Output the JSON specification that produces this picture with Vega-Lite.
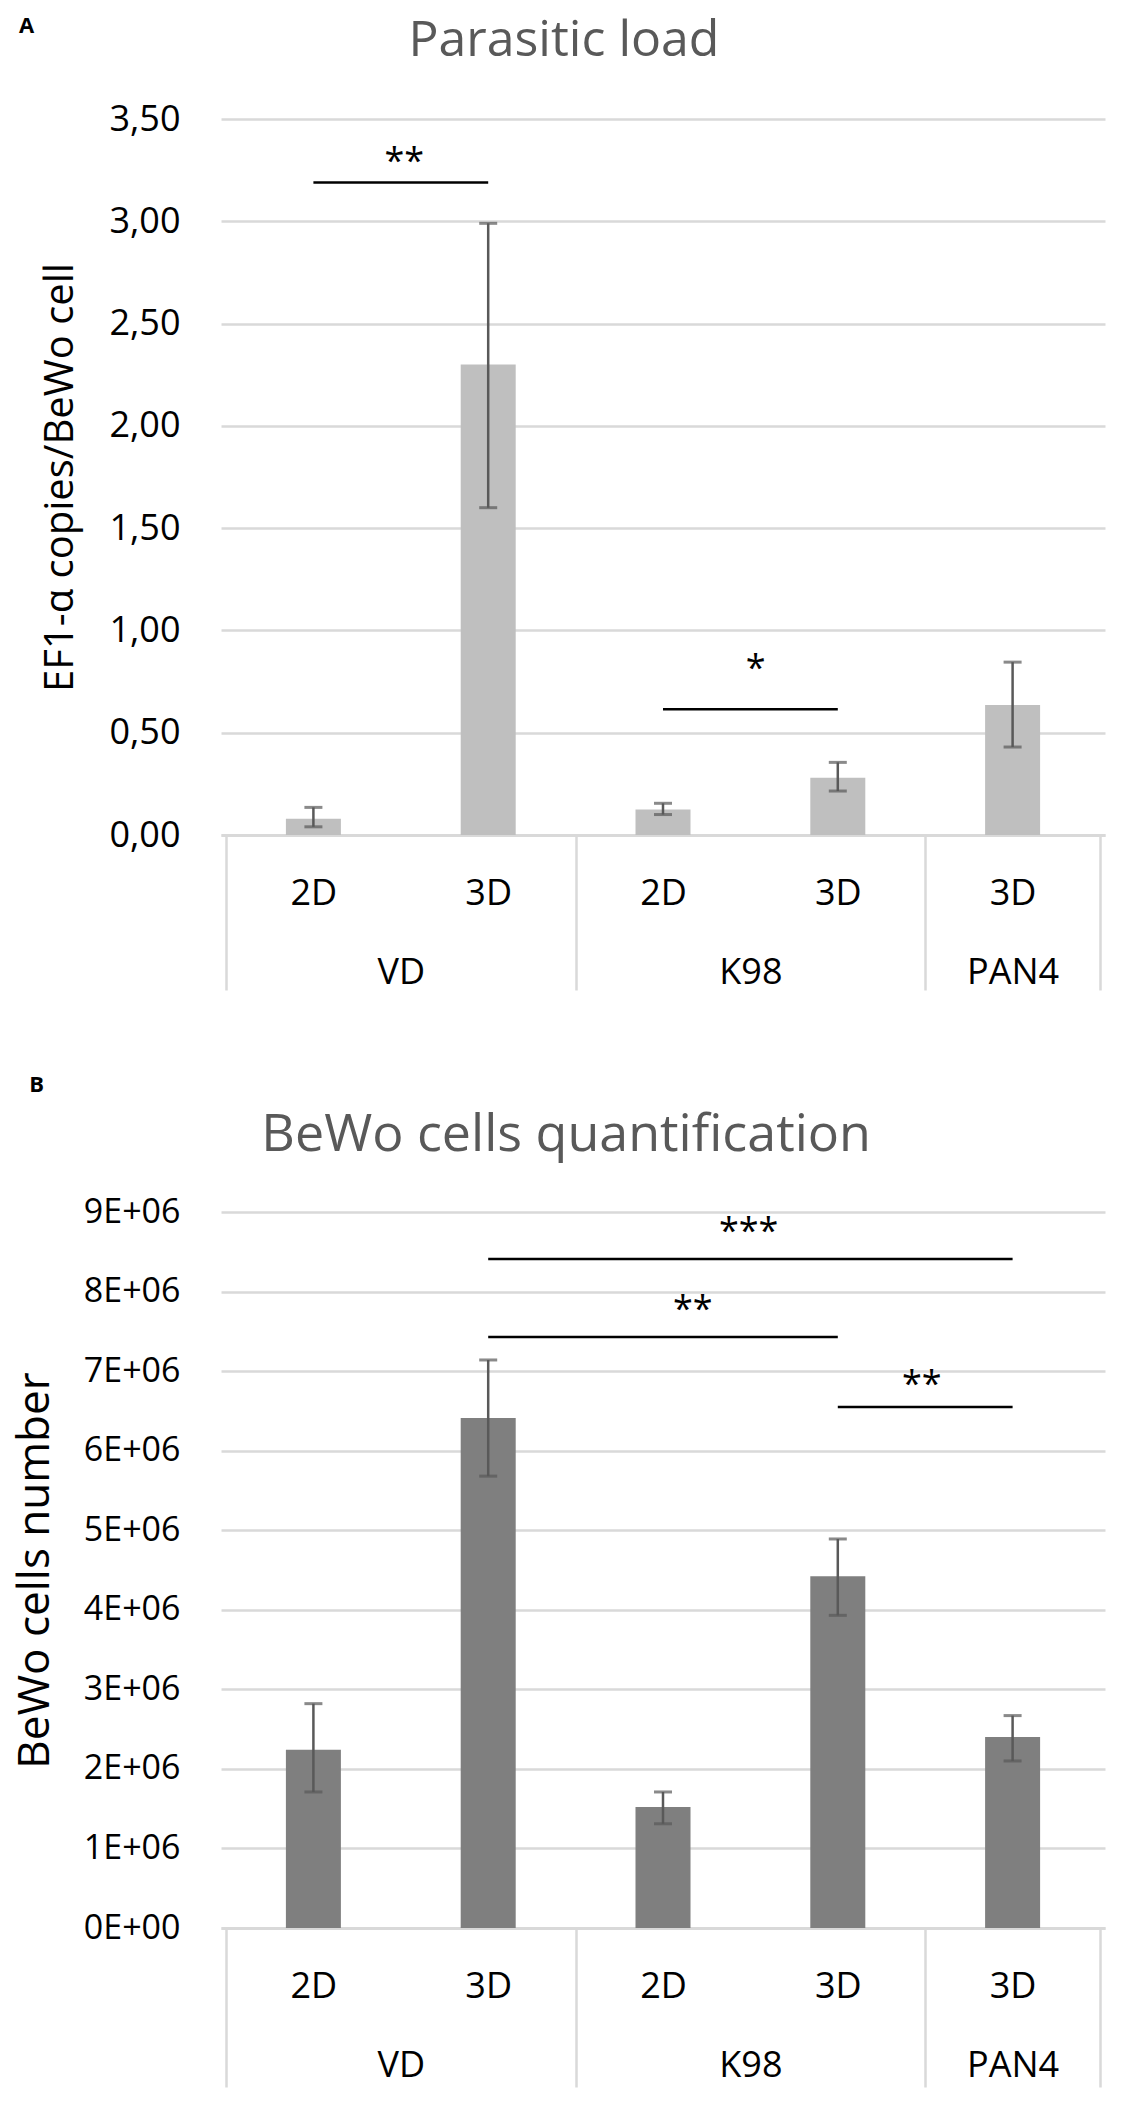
{
  "$schema": "https://vega.github.io/schema/vega-lite/v6.json",
  "background": "white",
  "padding": {"left": 13, "top": 15, "right": 5, "bottom": 5},
  "config": {
    "font": "Open Sans",
    "view": {"stroke": null},
    "axis": {"labelColor": "black", "titleColor": "black", "labelFont": "Open Sans", "titleFont": "Open Sans"}
  },
  "datasets": {
    "load": [
      {"strain": "VD", "cond": "2D", "pos": 0.5, "mean": 0.08, "lo": 0.04, "hi": 0.135},
      {"strain": "VD", "cond": "3D", "pos": 1.5, "mean": 2.30, "lo": 1.60, "hi": 2.99},
      {"strain": "K98", "cond": "2D", "pos": 2.5, "mean": 0.125, "lo": 0.10, "hi": 0.155},
      {"strain": "K98", "cond": "3D", "pos": 3.5, "mean": 0.28, "lo": 0.215, "hi": 0.355},
      {"strain": "PAN4", "cond": "3D", "pos": 4.5, "mean": 0.635, "lo": 0.43, "hi": 0.845}
    ],
    "load_sig": [
      {"from": 0.5, "to": 1.5, "level": 3.19, "mid": 1.02, "star_y": 3.33, "stars": "**"},
      {"from": 2.5, "to": 3.5, "level": 0.615, "mid": 3.03, "star_y": 0.85, "stars": "*"}
    ],
    "cells": [
      {"strain": "VD", "cond": "2D", "pos": 0.5, "mean": 2240000, "lo": 1710000, "hi": 2820000},
      {"strain": "VD", "cond": "3D", "pos": 1.5, "mean": 6410000, "lo": 5680000, "hi": 7140000},
      {"strain": "K98", "cond": "2D", "pos": 2.5, "mean": 1520000, "lo": 1310000, "hi": 1710000},
      {"strain": "K98", "cond": "3D", "pos": 3.5, "mean": 4420000, "lo": 3930000, "hi": 4890000},
      {"strain": "PAN4", "cond": "3D", "pos": 4.5, "mean": 2400000, "lo": 2100000, "hi": 2670000}
    ],
    "cells_sig": [
      {"from": 1.5, "to": 4.5, "level": 8410000, "mid": 2.99, "star_y": 8850000, "stars": "***"},
      {"from": 1.5, "to": 3.5, "level": 7430000, "mid": 2.67, "star_y": 7870000, "stars": "**"},
      {"from": 3.5, "to": 4.5, "level": 6550000, "mid": 3.98, "star_y": 6930000, "stars": "**"}
    ]
  },
  "spacing": 82,
  "vconcat": [
    {
      "title": {"text": "A", "anchor": "start", "frame": "bounds", "fontSize": 22, "fontWeight": "bold", "color": "black", "offset": -22, "dx": -22},
      "vconcat": [
        {
          "width": 884,
          "height": 716,
          "title": {"text": "Parasitic load", "fontSize": 50, "fontWeight": "normal", "color": "#595959", "anchor": "middle", "frame": "bounds", "offset": 35, "dx": -9},
          "resolve": {"axis": {"x": "independent"}},
          "layer": [
            {
              "data": {"name": "load"},
              "mark": {"type": "bar", "size": 55, "color": "#bfbfbf"},
              "encoding": {
                "x": {"field": "pos", "type": "quantitative", "scale": {"domain": [0, 5], "nice": false, "zero": false},
                  "axis": {"title": null, "orient": "bottom", "values": [0.5, 1.5, 2.5, 3.5, 4.5], "labelExpr": "datum.value < 1 ? '2D' : datum.value < 2 ? '3D' : datum.value < 3 ? '2D' : '3D'",
                    "ticks": false, "grid": false, "domainColor": "#d9d9d9", "domainWidth": 3, "labelFontSize": 36, "labelPadding": 41, "labelFlush": false, "labelOverlap": false}},
                "y": {"field": "mean", "type": "quantitative", "scale": {"domain": [0, 3.5], "nice": false},
                  "axis": {"title": "EF1-α copies/BeWo cell", "values": [0, 0.5, 1, 1.5, 2, 2.5, 3, 3.5], "labelExpr": "replace(format(datum.value, '.2f'), '.', ',')",
                    "grid": true, "gridColor": "#d9d9d9", "gridWidth": 2.5, "domain": false, "ticks": false, "labelFontSize": 36, "labelPadding": 41,
                    "titleFontSize": 40, "titleFontWeight": "normal", "titlePadding": 28}}
              }
            },
            {
              "data": {"name": "load"},
              "mark": {"type": "rule", "color": "#595959", "strokeWidth": 2.5},
              "encoding": {
                "x": {"field": "pos", "type": "quantitative",
                  "axis": {"title": null, "orient": "bottom", "values": [0, 2, 4, 5], "labels": false, "domain": false, "grid": false, "ticks": true, "tickSize": 155, "tickColor": "#d9d9d9", "tickWidth": 2.5}},
                "y": {"field": "lo", "type": "quantitative"},
                "y2": {"field": "hi"}
              }
            },
            {
              "data": {"name": "load"},
              "mark": {"type": "tick", "orient": "horizontal", "size": 18, "thickness": 3, "color": "#595959"},
              "encoding": {
                "x": {"field": "pos", "type": "quantitative",
                  "axis": {"title": null, "orient": "bottom", "values": [1, 3, 4.5], "labelExpr": "datum.value < 2 ? 'VD' : datum.value < 4 ? 'K98' : 'PAN4'",
                    "ticks": false, "domain": false, "grid": false, "labelFontSize": 36, "labelPadding": 120, "labelFlush": false, "labelOverlap": false}},
                "y": {"field": "lo", "type": "quantitative"}
              }
            },
            {
              "data": {"name": "load"},
              "mark": {"type": "tick", "orient": "horizontal", "size": 18, "thickness": 3, "color": "#595959"},
              "encoding": {
                "x": {"field": "pos", "type": "quantitative", "axis": null},
                "y": {"field": "hi", "type": "quantitative"}
              }
            },
            {
              "data": {"name": "load_sig"},
              "mark": {"type": "rule", "color": "black", "strokeWidth": 2.5},
              "encoding": {
                "x": {"field": "from", "type": "quantitative", "axis": null},
                "x2": {"field": "to"},
                "y": {"field": "level", "type": "quantitative"}
              }
            },
            {
              "data": {"name": "load_sig"},
              "mark": {"type": "text", "fontSize": 36, "color": "black", "baseline": "alphabetic", "dy": 19},
              "encoding": {
                "x": {"field": "mid", "type": "quantitative", "axis": null},
                "y": {"field": "star_y", "type": "quantitative"},
                "text": {"field": "stars"}
              }
            }
          ]
        }
      ]
    },
    {
      "title": {"text": "B", "anchor": "start", "frame": "bounds", "fontSize": 22, "fontWeight": "bold", "color": "black", "offset": 12, "dx": 16},
      "vconcat": [
        {
          "width": 884,
          "height": 716,
          "title": {"text": "BeWo cells quantification", "fontSize": 52, "fontWeight": "normal", "color": "#595959", "anchor": "middle", "frame": "bounds", "offset": 33, "dx": 7},
          "resolve": {"axis": {"x": "independent"}},
          "layer": [
            {
              "data": {"name": "cells"},
              "mark": {"type": "bar", "size": 55, "color": "#7f7f7f"},
              "encoding": {
                "x": {"field": "pos", "type": "quantitative", "scale": {"domain": [0, 5], "nice": false, "zero": false},
                  "axis": {"title": null, "orient": "bottom", "values": [0.5, 1.5, 2.5, 3.5, 4.5], "labelExpr": "datum.value < 1 ? '2D' : datum.value < 2 ? '3D' : datum.value < 3 ? '2D' : '3D'",
                    "ticks": false, "grid": false, "domainColor": "#d9d9d9", "domainWidth": 3, "labelFontSize": 36, "labelPadding": 41, "labelFlush": false, "labelOverlap": false}},
                "y": {"field": "mean", "type": "quantitative", "scale": {"domain": [0, 9000000], "nice": false},
                  "axis": {"title": "BeWo cells number", "values": [0, 1000000, 2000000, 3000000, 4000000, 5000000, 6000000, 7000000, 8000000, 9000000],
                    "labelExpr": "datum.value == 0 ? '0E+00' : round(datum.value / 1000000) + 'E+06'",
                    "grid": true, "gridColor": "#d9d9d9", "gridWidth": 2.5, "domain": false, "ticks": false, "labelFontSize": 34, "labelPadding": 41,
                    "titleFontSize": 44, "titleFontWeight": "normal", "titlePadding": 26}}
              }
            },
            {
              "data": {"name": "cells"},
              "mark": {"type": "rule", "color": "#595959", "strokeWidth": 2.5},
              "encoding": {
                "x": {"field": "pos", "type": "quantitative",
                  "axis": {"title": null, "orient": "bottom", "values": [0, 2, 4, 5], "labels": false, "domain": false, "grid": false, "ticks": true, "tickSize": 159, "tickColor": "#d9d9d9", "tickWidth": 2.5}},
                "y": {"field": "lo", "type": "quantitative"},
                "y2": {"field": "hi"}
              }
            },
            {
              "data": {"name": "cells"},
              "mark": {"type": "tick", "orient": "horizontal", "size": 18, "thickness": 3, "color": "#595959"},
              "encoding": {
                "x": {"field": "pos", "type": "quantitative",
                  "axis": {"title": null, "orient": "bottom", "values": [1, 3, 4.5], "labelExpr": "datum.value < 2 ? 'VD' : datum.value < 4 ? 'K98' : 'PAN4'",
                    "ticks": false, "domain": false, "grid": false, "labelFontSize": 36, "labelPadding": 120, "labelFlush": false, "labelOverlap": false}},
                "y": {"field": "lo", "type": "quantitative"}
              }
            },
            {
              "data": {"name": "cells"},
              "mark": {"type": "tick", "orient": "horizontal", "size": 18, "thickness": 3, "color": "#595959"},
              "encoding": {
                "x": {"field": "pos", "type": "quantitative", "axis": null},
                "y": {"field": "hi", "type": "quantitative"}
              }
            },
            {
              "data": {"name": "cells_sig"},
              "mark": {"type": "rule", "color": "black", "strokeWidth": 2.5},
              "encoding": {
                "x": {"field": "from", "type": "quantitative", "axis": null},
                "x2": {"field": "to"},
                "y": {"field": "level", "type": "quantitative"}
              }
            },
            {
              "data": {"name": "cells_sig"},
              "mark": {"type": "text", "fontSize": 36, "color": "black", "baseline": "alphabetic", "dy": 19},
              "encoding": {
                "x": {"field": "mid", "type": "quantitative", "axis": null},
                "y": {"field": "star_y", "type": "quantitative"},
                "text": {"field": "stars"}
              }
            }
          ]
        }
      ]
    }
  ]
}
